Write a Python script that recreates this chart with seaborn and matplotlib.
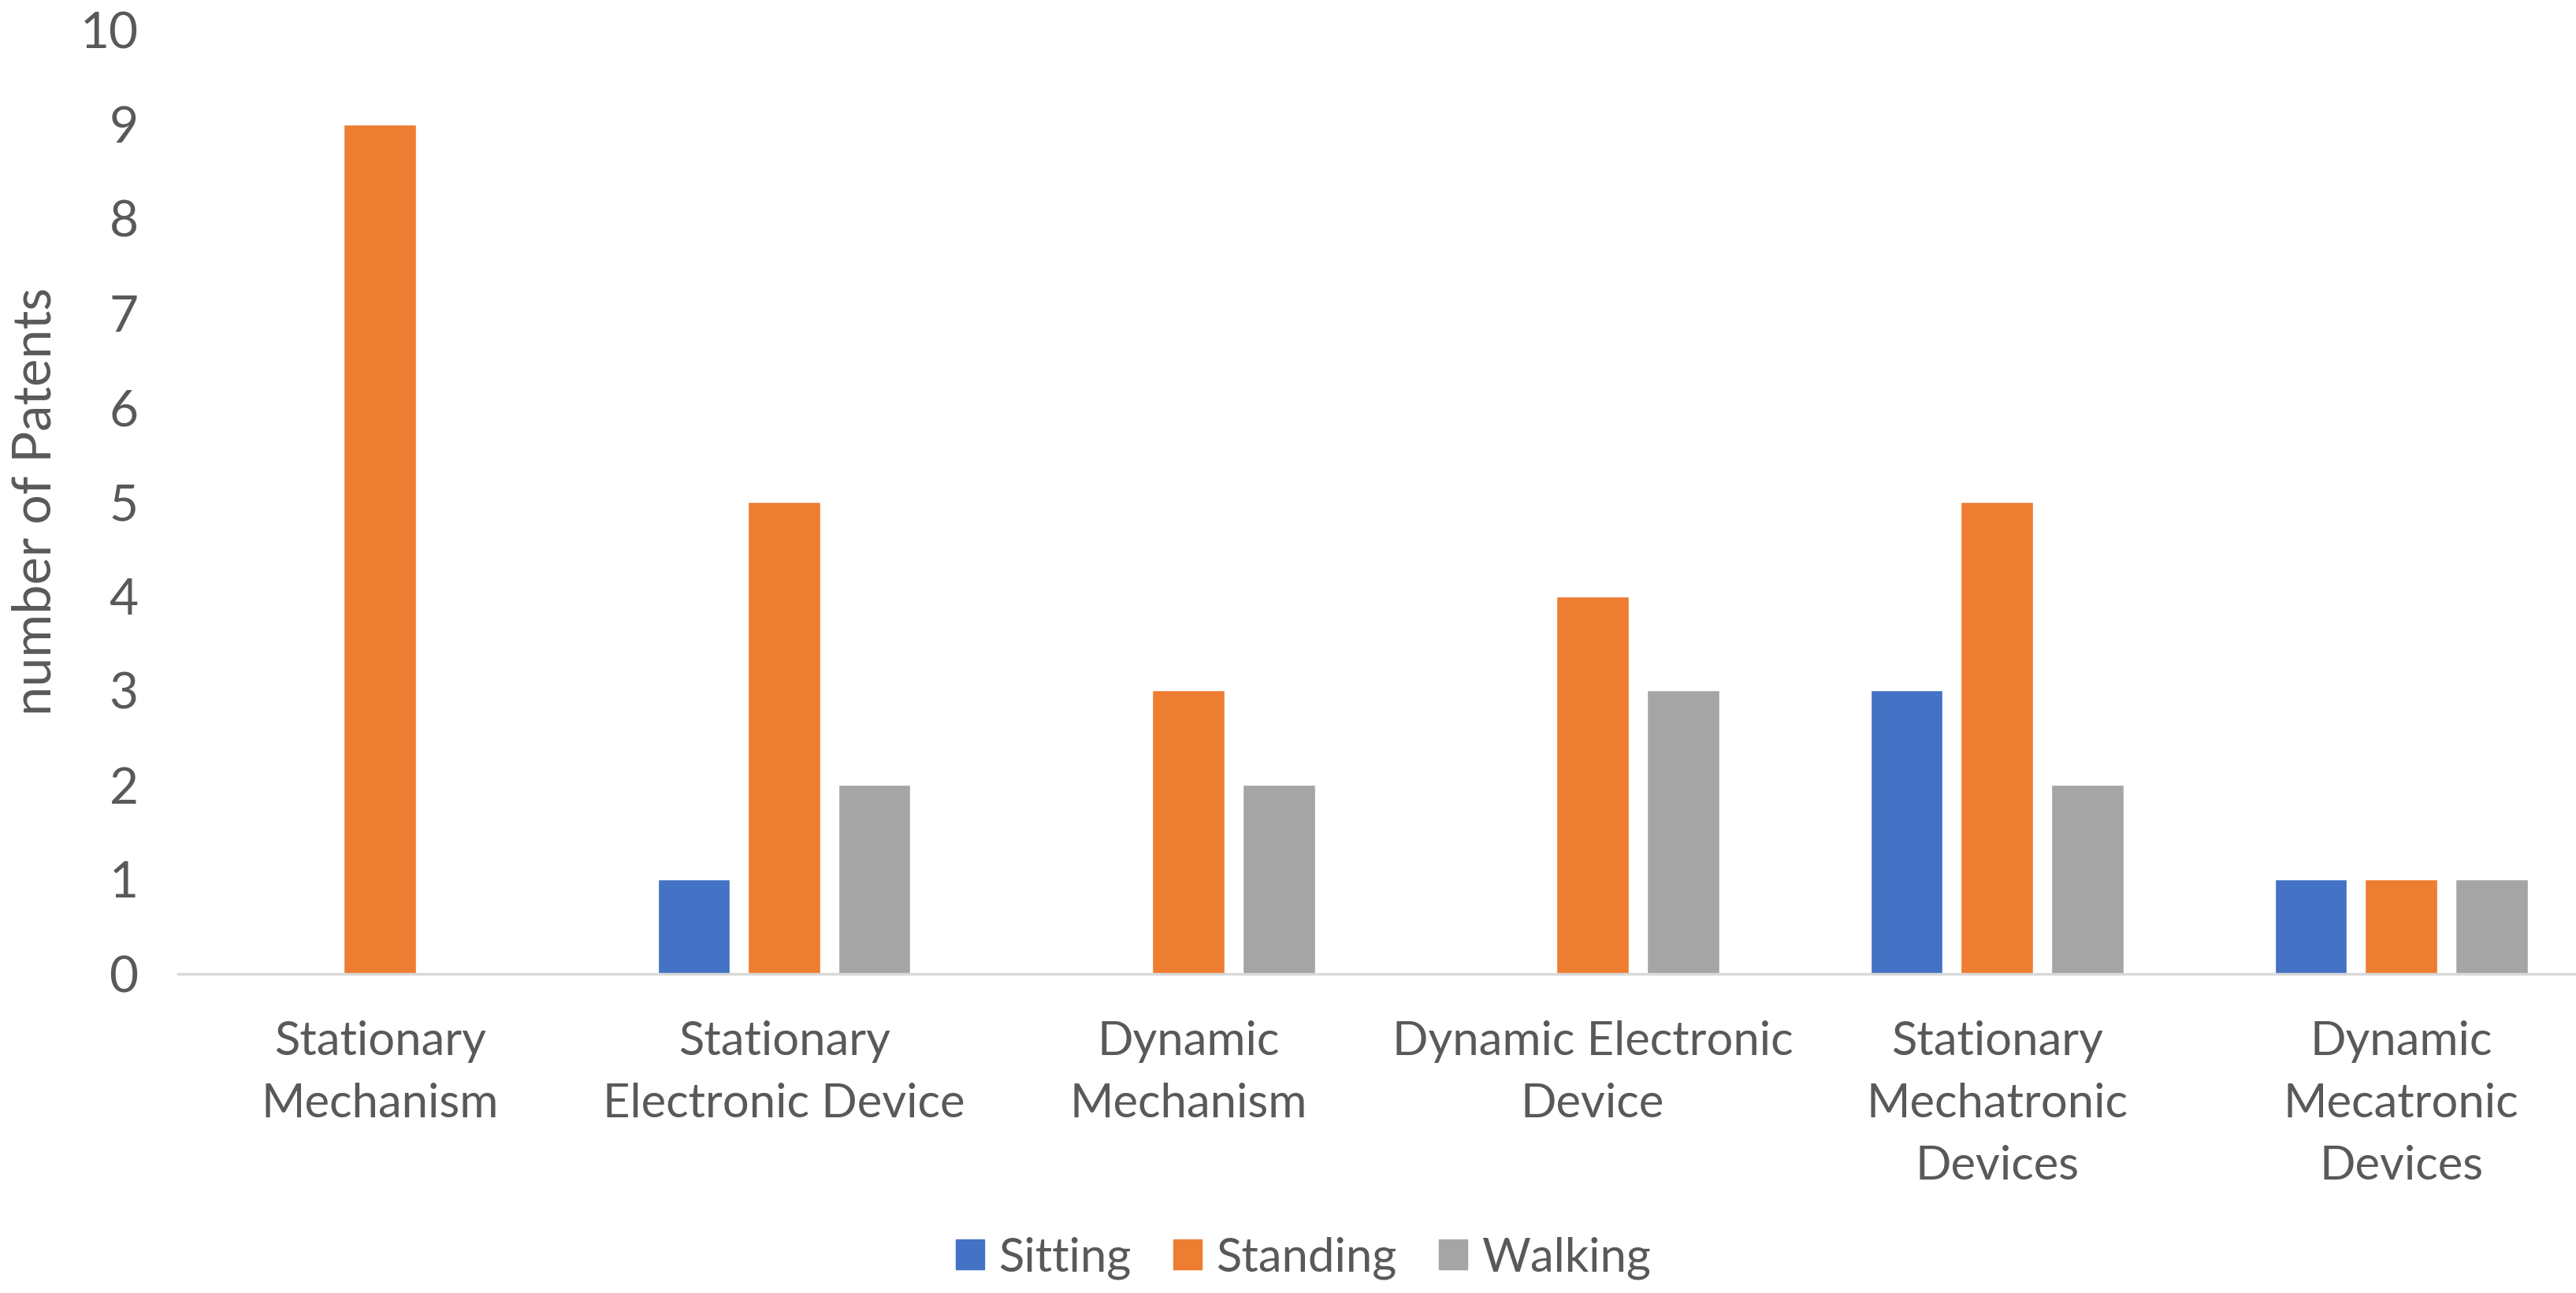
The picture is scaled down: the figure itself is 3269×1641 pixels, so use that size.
import matplotlib
matplotlib.use("Agg")
import matplotlib.pyplot as plt
import numpy as np
import pandas as pd
import seaborn as sns

categories = [
    "Stationary\nMechanism",
    "Stationary\nElectronic Device",
    "Dynamic\nMechanism",
    "Dynamic Electronic\nDevice",
    "Stationary\nMechatronic\nDevices",
    "Dynamic\nMecatronic\nDevices",
]
series = ["Sitting", "Standing", "Walking"]
sitting = [0, 1, 0, 0, 3, 1]
standing = [9, 5, 3, 4, 5, 1]
walking = [0, 2, 2, 3, 2, 1]
colors = ["#4472C4", "#ED7D31", "#A5A5A5"]
yticks = list(range(0, 11))

rows = []
for name, vals in zip(series, [sitting, standing, walking]):
    for cat, v in zip(categories, vals):
        rows.append({"category": cat, "series": name, "value": v})
df = pd.DataFrame(rows)

sns.set_theme(style="white")
plt.rcParams["font.family"] = ["Lato", "DejaVu Sans"]
text_color = "#595959"

fig = plt.figure(figsize=(32.69, 16.41), dpi=100)
# the plot area runs a little past the right edge of the picture, as in the source
ax = fig.add_axes([0.069, 0.247, 0.9416, 0.730])

sns.barplot(
    data=df, x="category", y="value", hue="series",
    order=categories, hue_order=series, palette=colors,
    width=0.67, gap=0.2, saturation=1, errorbar=None, ax=ax,
)

ax.set_ylim(0, 10)
ax.set_yticks(yticks)
ax.set_yticklabels([str(t) for t in yticks])
ax.set_xlim(-0.5, len(categories) - 0.5)
ax.set_xlabel("")
ax.set_ylabel("number of Patents", fontsize=48, color=text_color, labelpad=18)

for side in ["top", "right", "left"]:
    ax.spines[side].set_visible(False)
ax.spines["bottom"].set_color("#D9D9D9")
ax.spines["bottom"].set_linewidth(2.5)

ax.tick_params(axis="y", length=0, labelsize=46, labelcolor=text_color, pad=36)
ax.tick_params(axis="x", which="major", length=0, labelsize=43, labelcolor=text_color, pad=43)
ax.set_xticks(np.arange(-0.5, len(categories)), minor=True)
ax.tick_params(axis="x", which="minor", length=25, width=2.5, color="#D9D9D9", direction="out")
for lbl in ax.get_xticklabels():
    lbl.set_linespacing(1.56)

ax.legend_.remove()
handles = [plt.Rectangle((0, 0), 1, 1, color=c) for c in colors]
fig.legend(
    handles, series, loc="center", bbox_to_anchor=(0.506, 0.027), ncol=3,
    frameon=False, fontsize=43, labelcolor=text_color,
    handlelength=0.6, handleheight=0.6, handletextpad=0.3, columnspacing=0.9,
)

fig.savefig("out.png", dpi=100)
